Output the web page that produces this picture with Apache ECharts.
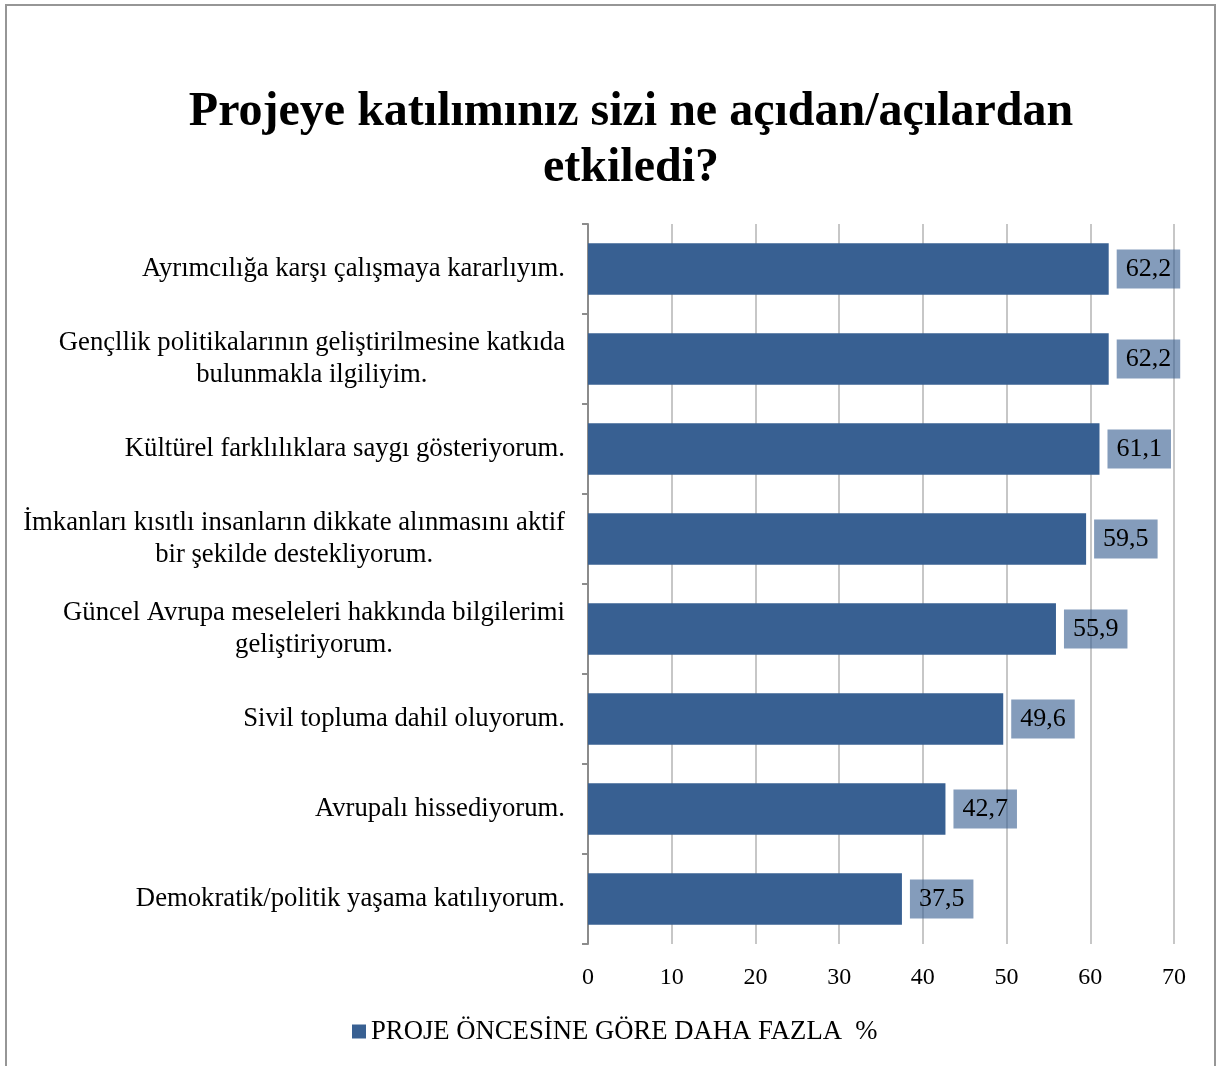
<!DOCTYPE html>
<html><head><meta charset="utf-8">
<script src="https://cdn.jsdelivr.net/npm/echarts@6/dist/echarts.min.js"></script>
<style>html,body{margin:0;padding:0;background:#fff}#c{width:1221px;height:1066px}</style>
</head><body><div id="c"></div>
<script>
const titleText = 'Projeye katılımınız sizi ne açıdan/açılardan\netkiledi?';
const seriesName = 'PROJE ÖNCESİNE GÖRE DAHA FAZLA  %';
const categories = [
  'Ayrımcılığa karşı çalışmaya kararlıyım.',
  'Gençllik politikalarının geliştirilmesine katkıda\nbulunmakla ilgiliyim.',
  'Kültürel farklılıklara saygı gösteriyorum.',
  'İmkanları kısıtlı insanların dikkate alınmasını aktif\nbir şekilde destekliyorum.',
  'Güncel Avrupa meseleleri hakkında bilgilerimi\ngeliştiriyorum.',
  'Sivil topluma dahil oluyorum.',
  'Avrupalı hissediyorum.',
  'Demokratik/politik yaşama katılıyorum.'
];
const values = [62.2, 62.2, 61.1, 59.5, 55.9, 49.6, 42.7, 37.5];
const xTicks = [0, 10, 20, 30, 40, 50, 60, 70];

const serif = '"Liberation Serif","Times New Roman",serif';
const chart = echarts.init(document.getElementById('c'));
chart.setOption({
  backgroundColor: '#fff',
  animation: false,
  graphic: [{
    type: 'rect', silent: true, z: -10,
    shape: { x: 6, y: 5, width: 1209, height: 1120 },
    style: { fill: 'none', stroke: '#969696', lineWidth: 2 }
  }],
  title: {
    text: titleText,
    left: 626, top: 80, textAlign: 'center',
    textStyle: { fontFamily: serif, fontWeight: 'bold', fontSize: 48, lineHeight: 56, color: '#000' }
  },
  legend: {
    bottom: 16, left: 347,
    itemWidth: 14, itemHeight: 14, itemGap: 6,
    icon: 'rect',
    textStyle: { fontFamily: serif, fontSize: 26.7, color: '#000' },
    data: [seriesName]
  },
  grid: { left: 588, right: 47, top: 224, bottom: 122, containLabel: false },
  xAxis: {
    type: 'value', min: 0, max: 70, interval: 10,
    axisLine: { show: false }, axisTick: { show: false },
    splitLine: { show: true, lineStyle: { color: '#b4b4b4', width: 1.5 } },
    axisLabel: {
      margin: 22, fontFamily: serif, fontSize: 24, color: '#000',
      formatter: v => xTicks.includes(v) ? String(v) : ''
    }
  },
  yAxis: {
    type: 'category', inverse: true, data: categories,
    axisLine: { show: true, lineStyle: { color: '#8c8c8c', width: 2 } },
    axisTick: { show: true, length: 6, lineStyle: { color: '#8c8c8c', width: 2 } },
    axisLabel: {
      margin: 23, fontFamily: serif, fontSize: 26.7, color: '#000',
      formatter: v => v.split('\n').map(l => '{a|' + l + '}').join('\n'),
      rich: { a: { fontFamily: serif, fontSize: 26.7, lineHeight: 32, align: 'center', color: '#000' } }
    }
  },
  series: [{
    name: seriesName, type: 'bar', data: values,
    barCategoryGap: '43%',
    itemStyle: { color: '#386092' },
    label: {
      show: true, position: 'right', distance: 8,
      formatter: p => String(p.value).replace('.', ','),
      fontFamily: serif, fontSize: 26, color: '#000', lineHeight: 26,
      backgroundColor: 'rgba(56,96,146,0.62)', padding: [7, 9, 6, 9]
    }
  }]
});
</script></body></html>
